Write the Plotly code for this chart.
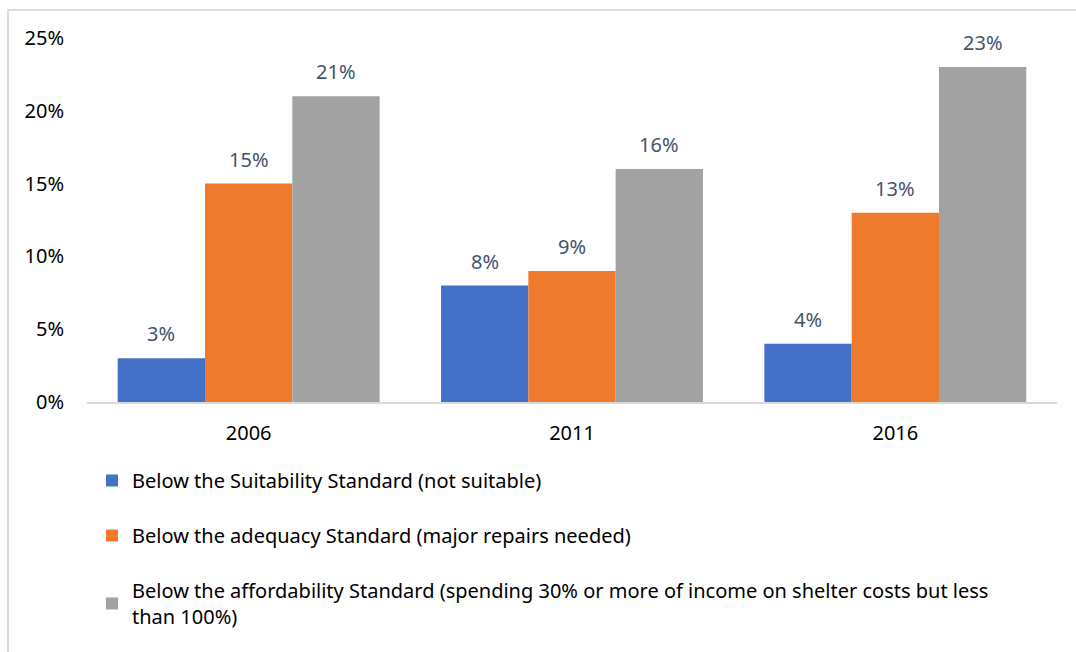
import plotly.graph_objects as go

# Census years and housing-standard shares (fraction of households)
years = ["2006", "2011", "2016"]
series_names = [
    "Below the Suitability Standard (not suitable)",
    "Below the adequacy Standard (major repairs needed)",
    "Below the affordability Standard (spending 30% or more of income on shelter costs but less<br>than 100%)",
]
suitability = [0.03, 0.08, 0.04]
adequacy = [0.15, 0.09, 0.13]
affordability = [0.21, 0.16, 0.23]
y_ticks = [0, 0.05, 0.10, 0.15, 0.20, 0.25]
y_tick_text = ["0%", "5%", "10%", "15%", "20%", "25%"]

colors = ["#4570C8", "#EE7A2E", "#A2A2A2"]
FONT = "Noto Sans"
FS = 20

# Plot-area geometry in pixels
L, R, T, B = 87, 19, 38, 250
W, H = 1076, 652
pw, ph = W - L - R, H - T - B
BARGAP = 0.19
bar_px = pw / len(years) * (1 - BARGAP) / 3


def px_x(x):
    return (x - L) / pw


def px_y(y):
    return (H - B - y) / ph


fig = go.Figure()
annotations = []
all_series = [suitability, adequacy, affordability]
for i, (name, vals) in enumerate(zip(series_names, all_series)):
    fig.add_trace(go.Bar(
        x=years,
        y=vals,
        name=name,
        legendgroup=f"g{i}",
        marker=dict(color=colors[i], line=dict(width=0)),
    ))
    # value labels above each bar (category index as x position)
    for j, v in enumerate(vals):
        annotations.append(dict(
            x=j, y=v, xref="x", yref="y",
            text=f"{v:.0%}",
            showarrow=False,
            xanchor="center", yanchor="bottom",
            xshift=(i - 1) * bar_px,
            yshift=9,
            font=dict(family=FONT, size=FS, color="#44546A"),
        ))

fig.update_layout(
    width=W,
    height=H,
    margin=dict(l=L, r=R, t=T, b=B),
    paper_bgcolor="white",
    plot_bgcolor="white",
    barmode="group",
    bargap=BARGAP,
    bargroupgap=0,
    font=dict(family=FONT, size=FS, color="#000000"),
    showlegend=True,
    legend=dict(
        orientation="v",
        x=px_x(92),
        xanchor="left",
        y=px_y(461),
        yanchor="top",
        traceorder="grouped",
        tracegroupgap=26,
        font=dict(family=FONT, size=FS, color="#000000"),
        bgcolor="rgba(0,0,0,0)",
    ),
    xaxis=dict(
        type="category",
        range=[-0.5, len(years) - 0.5],
        showline=True,
        linecolor="#D9D9D9",
        linewidth=1.5,
        ticks="",
        showgrid=False,
        tickfont=dict(family=FONT, size=FS, color="#000000"),
        ticklabelstandoff=12,
    ),
    yaxis=dict(
        range=[0, 0.25],
        tickvals=y_ticks,
        ticktext=y_tick_text,
        showgrid=False,
        zeroline=False,
        showline=False,
        ticks="",
        tickfont=dict(family=FONT, size=FS, color="#000000"),
        ticklabelstandoff=22,
    ),
    annotations=annotations,
    shapes=[dict(
        type="rect",
        xref="paper",
        yref="paper",
        x0=px_x(8),
        x1=px_x(1090),
        y0=px_y(670),
        y1=px_y(10),
        line=dict(color="#D9DEE6", width=2),
        fillcolor="rgba(0,0,0,0)",
        layer="below",
    )],
)

fig.write_html("out.html")
